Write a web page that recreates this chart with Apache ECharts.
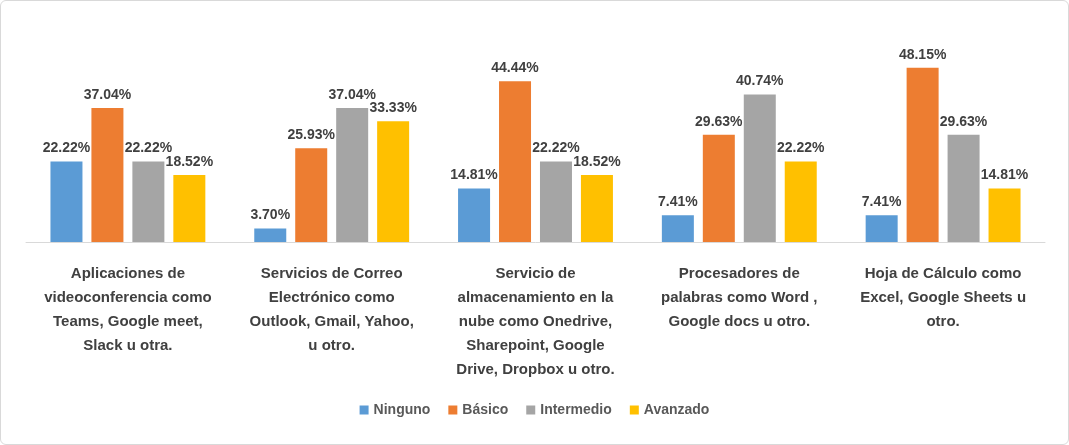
<!DOCTYPE html>
<html><head><meta charset="utf-8">
<script src="https://cdn.jsdelivr.net/npm/echarts@6/dist/echarts.min.js"></script>
<style>html,body{margin:0;padding:0;background:#fff}#c{width:1069px;height:445px;box-sizing:border-box;border:1px solid #d9d9d9;border-radius:6px}</style>
</head><body><div id="c"></div>
<script>
const categories = [
  "Aplicaciones de\nvideoconferencia como\nTeams, Google meet,\nSlack u otra.",
  "Servicios de Correo\nElectrónico como\nOutlook, Gmail, Yahoo,\nu otro.",
  "Servicio de\nalmacenamiento en la\nnube como Onedrive,\nSharepoint, Google\nDrive, Dropbox u otro.",
  "Procesadores de\npalabras como Word ,\nGoogle docs u otro.",
  "Hoja de Cálculo como\nExcel, Google Sheets u\notro."
];
const seriesNames = ["Ninguno","Básico","Intermedio","Avanzado"];
const ninguno = [22.22, 3.70, 14.81, 7.41, 7.41];
const basico = [37.04, 25.93, 44.44, 29.63, 48.15];
const intermedio = [22.22, 37.04, 22.22, 40.74, 29.63];
const avanzado = [18.52, 33.33, 18.52, 22.22, 14.81];
const colors = ["#5b9bd5","#ed7d31","#a5a5a5","#ffc000"];
const values = [ninguno, basico, intermedio, avanzado];
const chart = echarts.init(document.getElementById('c'));
chart.setOption({
  animation:false,
  grid:{left:25,right:23,top:60,bottom:202},
  legend:{bottom:22,itemWidth:9,itemHeight:9,itemGap:18,icon:'rect',
    textStyle:{fontFamily:'Liberation Sans',fontSize:14,fontWeight:'bold',color:'#595959'}},
  xAxis:{type:'category',data:categories,axisTick:{show:false},
    axisLine:{lineStyle:{color:'#d9d9d9'}},
    axisLabel:{interval:0,margin:20,lineHeight:24,fontFamily:'Liberation Sans',fontSize:15,fontWeight:'bold',color:'#404040'}},
  yAxis:{type:'value',min:0,max:50,show:false,splitLine:{show:false}},
  series: seriesNames.map((n,i)=>({
    name:n,type:'bar',data:values[i],barWidth:32,barGap:'28%',barCategoryGap:'24%',
    itemStyle:{color:colors[i]},
    label:{show:true,position:'top',distance:6,formatter:p=>p.value.toFixed(2)+'%',
      fontFamily:'Liberation Sans',fontSize:14,fontWeight:'bold',color:'#404040'},
    labelLayout:{hideOverlap:false}
  }))
});
</script></body></html>
